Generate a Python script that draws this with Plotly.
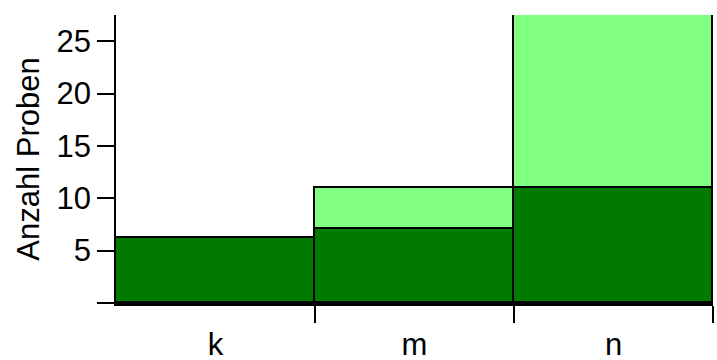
import plotly.graph_objects as go

# Sample counts per category, split into two stacked groups
categories = ["k", "m", "n"]
lower_counts = [6.2, 7.1, 11.0]
upper_counts = [0.0, 3.9, 16.5]
y_ticks = [0, 5, 10, 15, 20, 25]
y_tick_labels = ["", "5", "10", "15", "20", "25"]

positions = list(range(len(categories)))
edges = [p + 0.5 for p in positions]

fig = go.Figure()
fig.add_trace(go.Bar(
    x=positions, y=lower_counts, width=1,
    marker=dict(color="#007b00", line=dict(color="black", width=1.8)),
    showlegend=False,
))
fig.add_trace(go.Bar(
    x=positions, y=upper_counts, width=1,
    marker=dict(color="#80ff80", line=dict(color="black", width=1.8)),
    showlegend=False,
))

font = dict(family="Liberation Sans, Arial, sans-serif", size=31, color="black")

fig.update_layout(
    width=717, height=360,
    barmode="stack", bargap=0,
    plot_bgcolor="white", paper_bgcolor="white",
    margin=dict(l=116, r=4, t=15, b=57, autoexpand=False),
    font=font,
    xaxis=dict(
        range=[-0.5, len(categories) - 0.5],
        tickmode="array", tickvals=positions, ticktext=categories,
        ticks="", ticklabelstandoff=12,
        showline=True, linecolor="black", linewidth=2.5,
        showgrid=False, zeroline=False, automargin=False,
        minor=dict(tickmode="array", tickvals=edges, ticks="outside",
                   ticklen=17, tickwidth=1.5, tickcolor="black", showgrid=False),
        tickfont=font,
    ),
    yaxis=dict(
        range=[0, 27.5],
        tickmode="array", tickvals=y_ticks, ticktext=y_tick_labels,
        ticks="outside", ticklen=17, tickwidth=2, tickcolor="black",
        showline=True, linecolor="black", linewidth=1.5,
        showgrid=False, zeroline=False, automargin=False,
        title=dict(text="Anzahl Proben", font=font, standoff=8),
        tickfont=font,
    ),
)

fig.write_html("out.html")
